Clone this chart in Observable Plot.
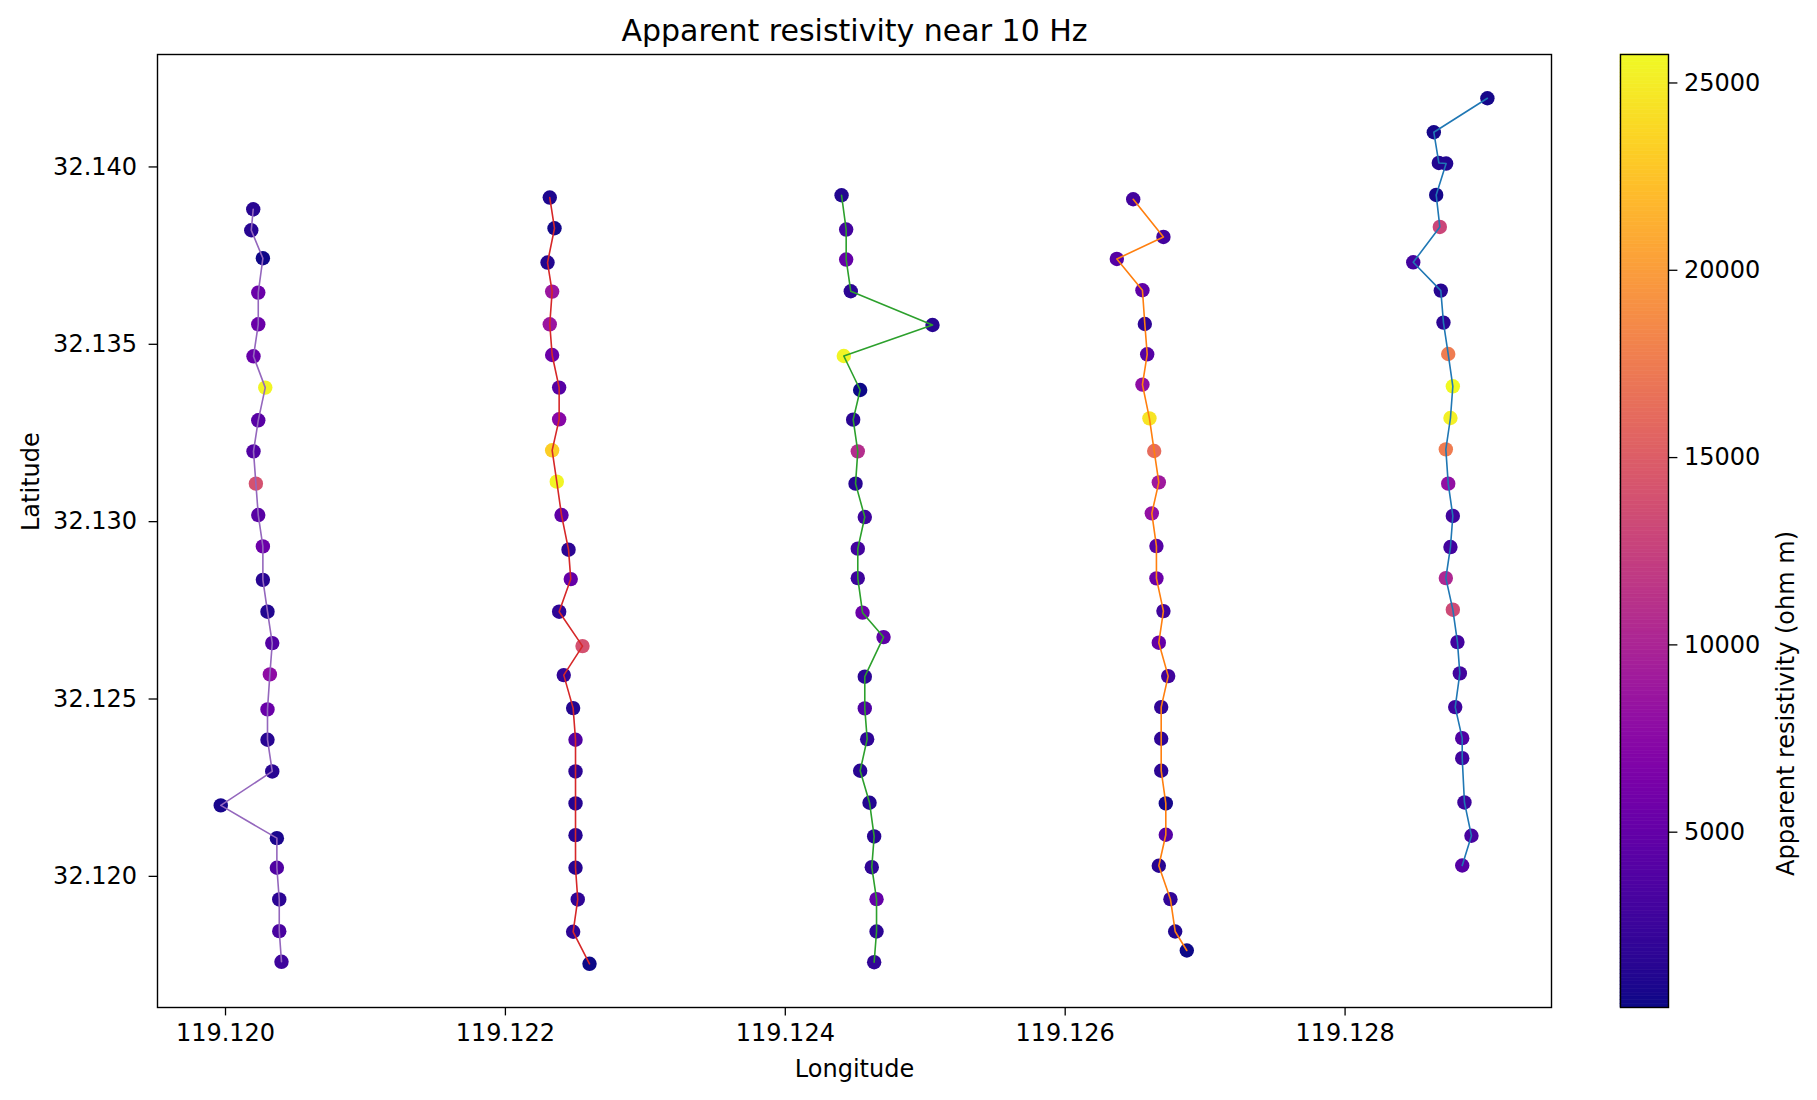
<!DOCTYPE html>
<html><head><meta charset="utf-8">
<script src="https://cdn.jsdelivr.net/npm/d3@7"></script>
<script src="https://cdn.jsdelivr.net/npm/@observablehq/plot@0.6"></script>
<style>
body{margin:0;background:#fff;}
#wrap{position:relative;width:1817px;height:1100px;background:#fff;font-family:"DejaVu Sans";}
#wrap svg{position:absolute;top:0;}
</style></head><body><div id="wrap"></div>
<script>
// Line 1 (westernmost, purple)
const lonP = [119.120198,119.120184,119.120267,119.120234,119.120234,119.120200,119.120284,119.120234,119.120200,119.120217,119.120234,119.120267,119.120267,119.120300,119.120334,119.120317,119.120300,119.120300,119.120334,119.119966,119.120367,119.120367,119.120384,119.120384,119.120400];
const latP = [32.138807,32.138215,32.137425,32.136458,32.135564,32.134662,32.133779,32.132857,32.131982,32.131072,32.130186,32.129303,32.128359,32.127462,32.126576,32.125694,32.124707,32.123852,32.122958,32.122000,32.121077,32.120243,32.119349,32.118455,32.117591];
const rhoP = [1500,1500,500,5400,5400,5200,25500,4200,3800,14000,4200,5500,1500,1200,3900,7800,5300,1500,1500,800,900,3700,1700,3400,2700];
// Line 2 (red)
const lonR = [119.122317,119.122351,119.122301,119.122334,119.122317,119.122334,119.122384,119.122384,119.122334,119.122367,119.122401,119.122451,119.122467,119.122384,119.122551,119.122417,119.122484,119.122501,119.122501,119.122501,119.122501,119.122501,119.122517,119.122484,119.122601];
const latR = [32.139137,32.138271,32.137304,32.136486,32.135564,32.134698,32.133779,32.132885,32.132011,32.131128,32.130186,32.129210,32.128381,32.127462,32.126492,32.125674,32.124743,32.123852,32.122958,32.122056,32.121162,32.120243,32.119349,32.118438,32.117535];
const rhoR = [1000,600,1200,8700,8600,5400,4100,7300,23200,25500,4600,1700,5000,1900,14000,2000,1300,3700,1700,1400,1400,1400,1900,1800,400];
// Line 3 (green)
const lonG = [119.124402,119.124435,119.124435,119.124468,119.125052,119.124418,119.124535,119.124485,119.124518,119.124502,119.124568,119.124518,119.124518,119.124552,119.124702,119.124568,119.124568,119.124585,119.124535,119.124602,119.124635,119.124618,119.124652,119.124652,119.124635];
const latG = [32.139202,32.138235,32.137389,32.136495,32.135544,32.134670,32.133711,32.132876,32.131982,32.131072,32.130130,32.129239,32.128407,32.127434,32.126746,32.125629,32.124735,32.123869,32.122978,32.122076,32.121125,32.120259,32.119357,32.118446,32.117580];
const rhoG = [1200,3000,5000,1700,1500,25500,400,1600,10800,1500,2700,3000,2700,5400,4600,1700,3600,1900,1500,1200,1500,1900,5000,1700,2000];
// Line 4 (orange)
const lonO = [119.126486,119.126702,119.126369,119.126552,119.126569,119.126586,119.126552,119.126602,119.126636,119.126669,119.126619,119.126652,119.126652,119.126702,119.126669,119.126736,119.126686,119.126686,119.126686,119.126719,119.126719,119.126669,119.126752,119.126786,119.126869];
const latO = [32.139089,32.138026,32.137406,32.136523,32.135573,32.134718,32.133864,32.132913,32.131991,32.131108,32.130234,32.129312,32.128401,32.127479,32.126588,32.125646,32.124772,32.123880,32.122978,32.122056,32.121173,32.120299,32.119357,32.118446,32.117910];
const rhoO = [3000,3000,4100,4600,1900,4000,7800,24500,16300,9000,8100,4000,5400,2900,5000,2900,2000,1900,1700,700,4100,1500,2000,1200,400];
// Line 5 (easternmost, blue)
const lonB = [119.129017,119.128634,119.128670,119.128722,119.128651,119.128677,119.128487,119.128684,119.128703,119.128737,119.128770,119.128753,119.128720,119.128737,119.128770,119.128753,119.128720,119.128770,119.128803,119.128820,119.128787,119.128837,119.128837,119.128853,119.128903,119.128837];
const latB = [32.141937,32.140979,32.140113,32.140096,32.139210,32.138308,32.137312,32.136514,32.135612,32.134726,32.133816,32.132922,32.132039,32.131072,32.130161,32.129284,32.128409,32.127518,32.126605,32.125722,32.124772,32.123897,32.123333,32.122084,32.121145,32.120307];
const rhoB = [700,700,1200,1200,700,13000,3000,1400,1700,17600,25700,25200,17600,8100,2900,3000,10300,13300,3000,2900,2700,3700,2900,2700,3300,4100];

const xTicks = [119.120,119.122,119.124,119.126,119.128];
const yTicks = [32.120,32.125,32.130,32.135,32.140];
const cbTicks = [5000,10000,15000,20000,25000];
const colorDomain = [320,25760];
const titleText = "Apparent resistivity near 10 Hz";
const xLabel = "Longitude";
const yLabel = "Latitude";
const cbLabel = "Apparent resistivity (ohm m)";

const lines = [
  {name:"L5", color:"#1f77b4", lon:lonB, lat:latB, rho:rhoB},
  {name:"L4", color:"#ff7f0e", lon:lonO, lat:latO, rho:rhoO},
  {name:"L3", color:"#2ca02c", lon:lonG, lat:latG, rho:rhoG},
  {name:"L2", color:"#d62728", lon:lonR, lat:latR, rho:rhoR},
  {name:"L1", color:"#9467bd", lon:lonP, lat:latP, rho:rhoP}
];
const table = lines.flatMap(L => L.lon.map((lon,i)=>({line:L.name, lon, lat:L.lat[i], rho:L.rho[i]})));

const fmt3 = d3.format(".3f");
const main = Plot.plot({
  width:1817, height:1100,
  marginLeft:157, marginRight:266, marginTop:54, marginBottom:93,
  style:{fontFamily:"DejaVu Sans", fontSize:"24px", background:"transparent", overflow:"visible", color:"black"},
  x:{domain:[119.119514,119.129475]},
  y:{domain:[32.116303,32.143170]},
  color:{type:"linear", scheme:"plasma", domain:colorDomain},
  marks:[
    Plot.axisX({ticks:xTicks, tickFormat:fmt3, tickSize:8.4, tickPadding:8, fontSize:24, label:null, strokeWidth:1.3}),
    Plot.axisY({ticks:yTicks, tickFormat:fmt3, tickSize:8.4, tickPadding:12, fontSize:24, label:null, strokeWidth:1.3}),
    Plot.dot(table, {x:"lon", y:"lat", r:7.2, fill:"rho"}),
    ...lines.map(L => Plot.line(table.filter(d=>d.line===L.name), {x:"lon", y:"lat", stroke:L.color, strokeWidth:1.6})),
    Plot.frame({stroke:"black", strokeWidth:1.4}),
    Plot.text([titleText], {text:d=>d, frameAnchor:"top", lineAnchor:"middle", dy:-23, fontSize:30}),
    Plot.text([xLabel], {text:d=>d, frameAnchor:"bottom", lineAnchor:"middle", dy:62, fontSize:24}),
    Plot.text([yLabel], {text:d=>d, frameAnchor:"left", lineAnchor:"middle", dx:-126, rotate:-90, fontSize:24})
  ]
});
main.style.left = "0px";

const nSteps = 256;
const cbStep = (colorDomain[1]-colorDomain[0])/nSteps;
const cbStops = d3.range(nSteps).map(i => colorDomain[0] + cbStep*i);
const cb = Plot.plot({
  width:257, height:1100,
  marginLeft:60, marginRight:149, marginTop:54, marginBottom:93,
  style:{fontFamily:"DejaVu Sans", fontSize:"24px", background:"transparent", overflow:"visible", color:"black"},
  x:{domain:[0,1], axis:null},
  y:{domain:colorDomain, axis:null},
  color:{type:"linear", scheme:"plasma", domain:colorDomain},
  marks:[
    Plot.rect(cbStops, {x1:0, x2:1, y1:d=>d, y2:d=>d+cbStep, fill:d=>d+cbStep/2, stroke:d=>d+cbStep/2, strokeWidth:0.6}),
    Plot.axisY({anchor:"right", ticks:cbTicks, tickFormat:d3.format("d"), tickSize:8.4, tickPadding:7, fontSize:24, label:null, strokeWidth:1.3}),
    Plot.frame({stroke:"black", strokeWidth:1.4}),
    Plot.text([cbLabel], {text:d=>d, frameAnchor:"right", lineAnchor:"middle", dx:118, rotate:-90, fontSize:24})
  ]
});
cb.style.left = "1560px";

const wrap = document.getElementById("wrap");
wrap.appendChild(main);
wrap.appendChild(cb);
</script>
</body></html>
